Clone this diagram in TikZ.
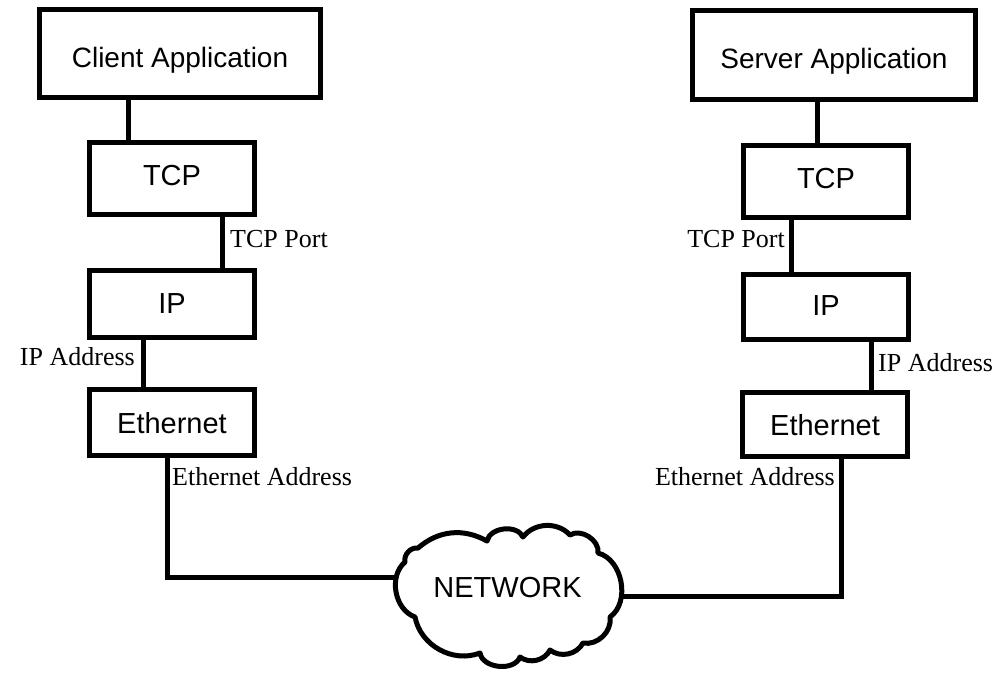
\documentclass[tikz,border=0pt]{standalone}
\usepackage{fontspec}
\setmainfont{Liberation Serif}
\newfontfamily\boxfont{Liberation Sans}
\usetikzlibrary{backgrounds}
\begin{document}
\begin{tikzpicture}[x=1pt,y=-1pt,
  layerbox/.style={draw=black, line width=5pt, inner sep=0pt,
    font=\boxfont\fontsize{29}{32}\selectfont, text depth=0pt},
  appbox/.style={draw=black, line width=5pt, inner sep=0pt,
    font=\boxfont\fontsize{28}{32}\selectfont, text depth=0pt},
  wire/.style={line width=5pt},
  addr/.style={inner sep=0pt, font=\fontsize{26}{30}\selectfont},
  netlabel/.style={inner sep=0pt, font=\boxfont\fontsize{29}{32}\selectfont}]
\useasboundingbox (0,0) rectangle (1003,673);

% client stack
\node[appbox, minimum width=281pt, minimum height=88pt, text height=27pt] (client) at (180,53.5) {Client Application};
\node[layerbox, minimum width=165pt, minimum height=72pt, text height=13pt] (ltcp) at (172,178.5) {TCP};
\node[layerbox, minimum width=165pt, minimum height=67pt, text height=18pt] (lip) at (172,304) {IP};
\node[layerbox, minimum width=165pt, minimum height=66pt, text height=21pt] (leth) at (172,422.5) {Ethernet};

% server stack
\node[appbox, minimum width=283pt, minimum height=89pt, text height=26pt] (server) at (834,55) {Server Application};
\node[layerbox, minimum width=165pt, minimum height=72pt, text height=13pt] (rtcp) at (826,181.5) {TCP};
\node[layerbox, minimum width=165pt, minimum height=65pt, text height=16pt] (rip) at (826,307) {IP};
\node[layerbox, minimum width=165pt, minimum height=64pt, text height=21pt] (reth) at (825,424.5) {Ethernet};

% network label
\node[netlabel] (net) at (507.5,587.5) {NETWORK};

% x positions of the vertical links
\coordinate (la) at (128,0);
\coordinate (lb) at (222,0);
\coordinate (lc) at (143,0);
\coordinate (ld) at (167,0);
\coordinate (ra) at (817,0);
\coordinate (rb) at (791,0);
\coordinate (rc) at (871,0);
\coordinate (rd) at (841,0);

\begin{pgfonlayer}{background}
  \fill[white] (0,0) rectangle (1003,673);

  \draw[wire] (client.south -| la) -- (ltcp.north -| la);
  \draw[wire] (ltcp.south -| lb) -- (lip.north -| lb);
  \draw[wire] (lip.south -| lc) -- (leth.north -| lc);
  \draw[wire] (leth.south -| ld) |- ([yshift=10.5pt]net.center);

  \draw[wire] (server.south -| ra) -- (rtcp.north -| ra);
  \draw[wire] (rtcp.south -| rb) -- (rip.north -| rb);
  \draw[wire] (rip.south -| rc) -- (reth.north -| rc);
  \draw[wire] (reth.south -| rd) |- ([yshift=-8.5pt]net.center);

  % cloud around the network label
  \draw[line width=5pt, fill=white, line join=round]
    (405,562) to[bend left=55] (418,548)
    to[bend left=35] (487,541)
    to[bend left=72] (523,537)
    to[bend left=50] (570,535)
    to[bend left=65] (598,553)
    to[bend left=65] (610,617)
    to[bend left=55] (583,643)
    to[bend left=50] (550,650)
    to[bend left=50] (520,657)
    to[bend left=75] (480,653)
    to[bend left=50] (415,617)
    to[bend left=60] (405,562) -- cycle;
\end{pgfonlayer}

% address labels
\node[addr, anchor=base west] (ltcpport) at (230,247) {TCP Port};
\node[addr, anchor=base east] (lipaddr) at (135,365) {IP Address};
\node[addr, anchor=base west] (lethaddr) at (172,485) {Ethernet Address};
\node[addr, anchor=base east] (rtcpport) at (785,247) {TCP Port};
\node[addr, anchor=base west] (ripaddr) at (878,371) {IP Address};
\node[addr, anchor=base east] (rethaddr) at (835,485) {Ethernet Address};
\end{tikzpicture}
\end{document}
